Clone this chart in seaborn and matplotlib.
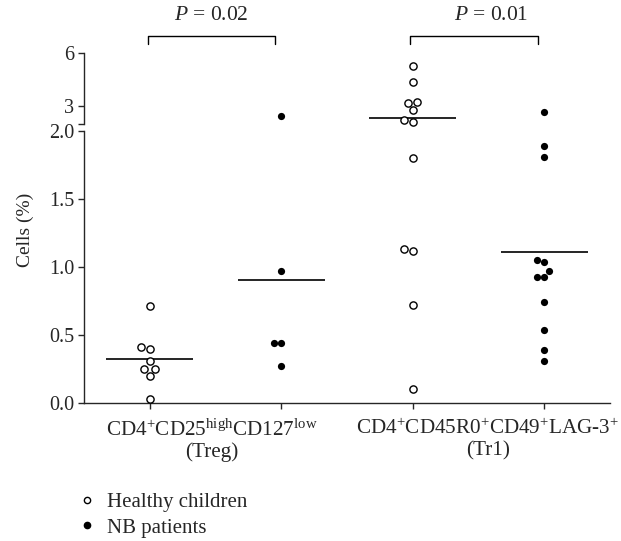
import pandas as pd
import matplotlib
matplotlib.use("Agg")
import matplotlib.pyplot as plt
from matplotlib.lines import Line2D
import seaborn as sns

# values (percent of cells)
treg_healthy = [0.71, 0.41, 0.40, 0.31, 0.25, 0.25, 0.20, 0.03]
treg_nb = [2.41, 0.97, 0.44, 0.44, 0.27]
tr1_healthy = [5.28, 4.35, 3.21, 3.17, 2.75, 2.22, 2.11, 1.80, 1.13, 1.12, 0.72, 0.10]
tr1_nb = [2.68, 1.89, 1.81, 1.05, 1.04, 0.97, 0.93, 0.93, 0.74, 0.54, 0.39, 0.31]

slots = ["Treg healthy", "Treg NB", "Tr1 healthy", "Tr1 NB"]
groups = ["Healthy children", "NB patients", "Healthy children", "NB patients"]
cell_labels = [r"CD4$^{+}$CD25$^{\mathrm{high}}$CD127$^{\mathrm{low}}$" + "\n(Treg)",
               r"CD4$^{+}$CD45R0$^{+}$CD49$^{+}$LAG-3$^{+}$" + "\n(Tr1)"]
p_values = ["0.02", "0.01"]

rows = []
for slot, grp, vals in zip(slots, groups, [treg_healthy, treg_nb, tr1_healthy, tr1_nb]):
    for v in vals:
        rows.append({"slot": slot, "group": grp, "value": v})
df = pd.DataFrame(rows)
means = df.groupby("slot")["value"].mean()

sns.set_style("ticks")
plt.rcParams["font.family"] = ["Liberation Serif", "DejaVu Serif"]
plt.rcParams["mathtext.fontset"] = "custom"
plt.rcParams["mathtext.rm"] = "Liberation Serif"
plt.rcParams["mathtext.it"] = "Liberation Serif:italic"
plt.rcParams["axes.linewidth"] = 1.0

fig = plt.figure(figsize=(6.21, 5.41), dpi=100)
ax_lo = fig.add_axes([0.1353, 0.2551, 0.847, 0.5028])
ax_hi = fig.add_axes([0.1353, 0.7715, 0.847, 0.1305])

for ax, part in [(ax_lo, df[df["value"] <= 2.0]), (ax_hi, df[df["value"] > 2.0])]:
    healthy = part[part["group"] == "Healthy children"]
    nb = part[part["group"] == "NB patients"]
    sns.swarmplot(data=healthy, x="slot", y="value", order=slots, ax=ax,
                  color="white", edgecolor="black", linewidth=1.0, size=5.2)
    sns.swarmplot(data=nb, x="slot", y="value", order=slots, ax=ax,
                  color="black", size=5.2)
    for coll in ax.collections:
        coll.set_clip_on(False)
    for i, s in enumerate(slots):
        ax.hlines(means[s], i - 0.33, i + 0.33, color="black", lw=1.2)
    ax.set_xlim(-0.5, 3.5)
    ax.set_xlabel("")
    ax.set_ylabel("")
    ax.tick_params(direction="out", length=4, width=1, labelsize=14.5, pad=3)

ax_lo.set_ylim(0, 2.0)
ax_lo.set_yticks([0, 0.5, 1.0, 1.5, 2.0])
ax_lo.set_yticklabels(["0.0", "0.5", "1.0", "1.5", "2.0"])
ax_lo.set_xticks(range(4))
ax_lo.set_xticklabels([])
ax_lo.spines[["top", "right"]].set_visible(False)

ax_hi.set_ylim(2, 6)
ax_hi.set_yticks([2, 3, 6])
ax_hi.set_yticklabels(["", "3", "6"])
ax_hi.set_xticks([])
ax_hi.spines[["top", "right", "bottom"]].set_visible(False)

# category labels under the axis
for xpos, lab in zip([0.47, 2.57], cell_labels):
    ax_lo.text(xpos, -0.06, lab, transform=ax_lo.get_xaxis_transform(),
               ha="center", va="top", fontsize=15.2, linespacing=1.1)

# significance brackets
for (x0, x1), pv, tx in zip([(-0.01, 0.95), (1.98, 2.95)], p_values, [0.47, 2.6]):
    ax_hi.plot([x0, x0, x1, x1], [6.5, 6.96, 6.96, 6.5], color="black", lw=1.0, clip_on=False)
    ax_hi.text(tx, 7.6, r"$P$ = " + pv, ha="center", va="bottom", fontsize=15.5)

fig.text(25 / 621, 1 - 230 / 541, "Cells (%)", rotation=90, ha="center", va="center", fontsize=14)

handles = [Line2D([], [], marker="o", ls="none", mfc="white", mec="black", mew=1.0, ms=4.5),
           Line2D([], [], marker="o", ls="none", mfc="black", mec="black", ms=4.5)]
fig.legend(handles, ["Healthy children", "NB patients"], loc="center left",
           bbox_to_anchor=(68 / 621, 1 - 515 / 541), frameon=False, fontsize=15,
           handlelength=0.8, handletextpad=0.55, labelspacing=0.3, borderpad=0)

fig.savefig("out.png", dpi=100)
